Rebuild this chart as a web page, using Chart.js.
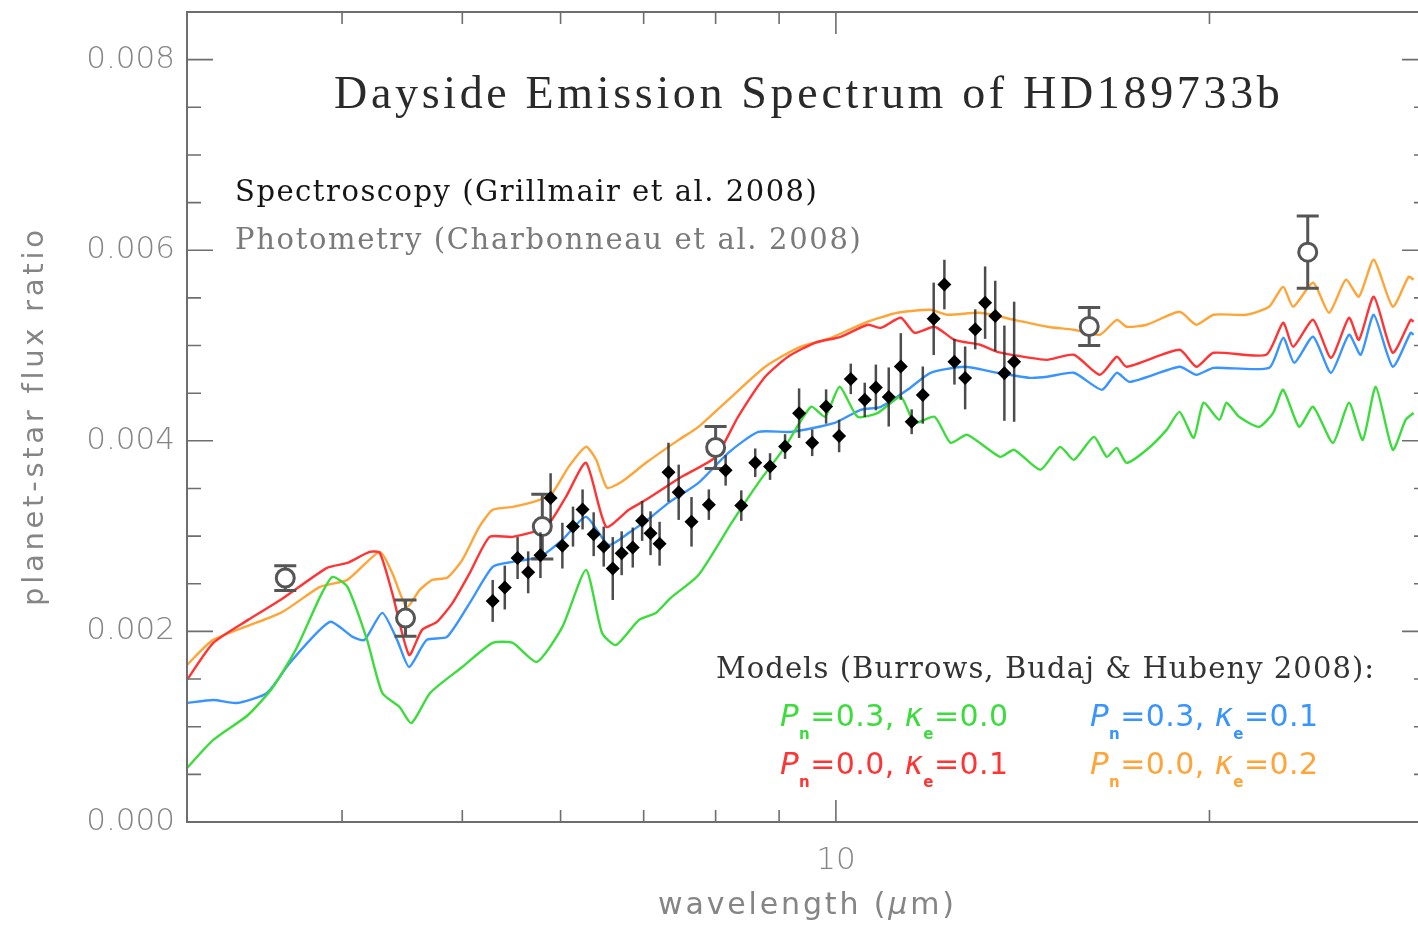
<!DOCTYPE html>
<html>
<head>
<meta charset="utf-8">
<title>Dayside Emission Spectrum of HD189733b</title>
<script src="https://cdn.jsdelivr.net/npm/chart.js@4.4.1/dist/chart.umd.min.js"></script>
<style>
  html, body { margin: 0; padding: 0; background: #fff; overflow: hidden; }
  canvas { display: block; }
</style>
</head>
<body>
<canvas id="spectrum" width="1440" height="926"></canvas>
<script>
// Spectroscopy (Grillmair et al. 2008) - wavelength in micron, flux ratio, 1-sigma error
const specWave = [5.29, 5.41, 5.54, 5.65, 5.78, 5.89, 6.02, 6.14, 6.25, 6.38,
                  6.50, 6.61, 6.72, 6.86, 6.98, 7.09, 7.21, 7.33, 7.47, 7.65,
                  7.90, 8.15, 8.39, 8.61, 8.85, 9.10, 9.34, 9.57, 9.82, 10.06,
                  10.28, 10.55, 10.77, 11.03, 11.28, 11.51, 11.75, 11.99, 12.23, 12.46,
                  12.71, 12.95, 13.19, 13.44, 13.67, 13.92];
const specFlux = [0.00232, 0.00246, 0.00277, 0.00262, 0.00280, 0.00340, 0.00290, 0.00310, 0.00328, 0.00302,
                  0.00289, 0.00266, 0.00282, 0.00288, 0.00316, 0.00303, 0.00292, 0.00367, 0.00346, 0.00315,
                  0.00333, 0.00369, 0.00332, 0.00377, 0.00373, 0.00394, 0.00429, 0.00398, 0.00436, 0.00405,
                  0.00465, 0.00443, 0.00456, 0.00446, 0.00478, 0.00420, 0.00448, 0.00528, 0.00564, 0.00483,
                  0.00466, 0.00517, 0.00545, 0.00531, 0.00471, 0.00483];
const specErr = [0.00022, 0.00023, 0.00022, 0.00022, 0.00024, 0.00026, 0.00024, 0.00021, 0.00021, 0.00023,
                 0.00021, 0.00033, 0.00023, 0.00021, 0.00021, 0.00023, 0.00023, 0.00031, 0.00029, 0.00026,
                 0.00016, 0.00016, 0.00016, 0.00015, 0.00014, 0.00013, 0.00026, 0.00014, 0.00018, 0.00017,
                 0.00016, 0.00018, 0.00024, 0.00031, 0.00035, 0.00013, 0.00030, 0.00038, 0.00026, 0.00024,
                 0.00033, 0.00021, 0.00038, 0.00037, 0.00050, 0.00063];

// Photometry (Charbonneau et al. 2008)
const photWave = [3.6, 4.5, 5.8, 8.0, 16.0, 24.0];
const photFlux = [0.00256, 0.00214, 0.00310, 0.00393, 0.00520, 0.00598];
const photErr = [0.00013, 0.00019, 0.00034, 0.00022, 0.00020, 0.00038];

// Models (Burrows, Budaj & Hubeny 2008)
const greenWave = [3.00, 3.15, 3.36, 3.52, 3.68, 3.84, 3.93, 4.04, 4.19, 4.31,
                   4.45, 4.55, 4.71, 5.00, 5.29, 5.49, 5.74, 6.02, 6.29, 6.48,
                   6.65, 6.94, 7.16, 7.36, 7.75, 8.24, 8.66, 9.10, 9.55, 9.80,
                   10.07, 10.41, 10.81, 11.28, 11.57, 12.01, 12.37, 12.76, 13.56, 13.92,
                   14.61, 15.16, 15.55, 16.14, 16.53, 16.84, 17.15, 17.80, 18.47, 18.92,
                   19.42, 19.78, 20.37, 20.64, 21.13, 21.93, 22.51, 22.93, 23.62, 24.24,
                   25.15, 25.91, 26.58, 27.23, 28.10, 28.78, 29.21];
const greenFlux = [0.000567, 0.000861, 0.001123, 0.001417, 0.001837, 0.002362, 0.002572, 0.002467, 0.001911, 0.001354,
                   0.001207, 0.001039, 0.001354, 0.001627, 0.001879, 0.001879, 0.001680, 0.002047, 0.002646, 0.001984,
                   0.001858, 0.002121, 0.002194, 0.002352, 0.002593, 0.003139, 0.003559, 0.003937, 0.004357, 0.004252,
                   0.004567, 0.004252, 0.004294, 0.004462, 0.004189, 0.004252, 0.003979, 0.004063, 0.003832, 0.003906,
                   0.003696, 0.003937, 0.003801, 0.004042, 0.003832, 0.003926, 0.003769, 0.003906, 0.004115, 0.004304,
                   0.004031, 0.004399, 0.004220, 0.004399, 0.004252, 0.004147, 0.004294, 0.004535, 0.004147, 0.004357,
                   0.003979, 0.004399, 0.004010, 0.004567, 0.003906, 0.004220, 0.004294];

const blueWave = [3.00, 3.15, 3.29, 3.48, 3.63, 3.91, 4.08, 4.17, 4.31, 4.43,
                  4.53, 4.68, 4.86, 5.07, 5.29, 5.49, 5.77, 6.02, 6.29, 6.56,
                  6.81, 7.10, 7.33, 7.75, 8.19, 8.66, 9.20, 9.98, 10.47, 10.87,
                  11.42, 11.92, 12.69, 13.49, 14.34, 14.80, 15.55, 16.38, 16.84, 17.25,
                  18.92, 19.52, 20.15, 22.34, 22.93, 23.41, 24.24, 25.06, 25.91, 26.48,
                  27.13, 28.10, 29.05, 29.21];
const blueFlux = [0.001249, 0.001281, 0.001249, 0.001354, 0.001669, 0.002100, 0.001942, 0.001911, 0.002194, 0.001911,
                  0.001627, 0.001911, 0.001942, 0.002299, 0.002677, 0.002730, 0.002782, 0.002961, 0.003202, 0.002908,
                  0.003034, 0.003202, 0.003349, 0.003559, 0.003874, 0.004094, 0.004094, 0.004189, 0.004325, 0.004357,
                  0.004535, 0.004714, 0.004777, 0.004714, 0.004661, 0.004672, 0.004714, 0.004535, 0.004714, 0.004619,
                  0.004777, 0.004693, 0.004766, 0.004766, 0.005081, 0.004819, 0.005092, 0.004714, 0.005113, 0.004903,
                  0.005323, 0.004777, 0.005134, 0.005113];

const redWave = [3.00, 3.15, 3.36, 3.57, 3.89, 4.04, 4.21, 4.29, 4.39, 4.53,
                 4.64, 4.77, 4.91, 5.07, 5.26, 5.49, 5.84, 6.06, 6.29, 6.53,
                 6.81, 7.03, 7.51, 8.00, 8.34, 8.77, 9.15, 9.62, 10.09, 10.61,
                 10.87, 11.28, 11.57, 12.01, 12.46, 13.07, 13.49, 14.34, 14.80, 15.55,
                 16.32, 16.84, 17.15, 18.92, 19.52, 20.15, 22.22, 22.93, 23.36, 24.24,
                 25.06, 25.91, 26.39, 27.13, 28.10, 29.05, 29.21];
const redFlux = [0.001491, 0.001879, 0.002121, 0.002331, 0.002667, 0.002719, 0.002835, 0.002824, 0.002404, 0.001753,
                 0.002016, 0.002100, 0.002299, 0.002614, 0.002992, 0.002992, 0.003097, 0.003412, 0.003769, 0.003097,
                 0.003276, 0.003381, 0.003622, 0.003832, 0.004252, 0.004672, 0.004882, 0.005029, 0.005092, 0.005218,
                 0.005186, 0.005291, 0.005134, 0.005197, 0.005060, 0.005008, 0.004934, 0.004871, 0.004850, 0.004903,
                 0.004693, 0.004882, 0.004777, 0.004955, 0.004777, 0.004924, 0.004903, 0.005239, 0.004987, 0.005270,
                 0.004871, 0.005291, 0.005060, 0.005512, 0.004924, 0.005270, 0.005249];

const orangeWave = [3.00, 3.15, 3.57, 3.84, 4.04, 4.29, 4.39, 4.51, 4.62, 4.73,
                    4.86, 5.00, 5.16, 5.29, 5.49, 5.77, 5.91, 6.09, 6.29, 6.41,
                    6.54, 6.72, 7.03, 7.47, 7.75, 8.24, 8.77, 9.32, 9.91, 10.55,
                    11.21, 11.92, 12.30, 13.07, 13.92, 14.80, 15.55, 16.32, 16.84, 17.15,
                    17.80, 18.92, 19.52, 20.15, 21.41, 22.34, 22.93, 23.36, 24.24, 24.97,
                    25.76, 26.39, 27.13, 28.10, 28.94, 29.21];
const orangeFlux = [0.001648, 0.001911, 0.002194, 0.002467, 0.002541, 0.002835, 0.002614, 0.002257, 0.002436, 0.002541,
                    0.002562, 0.002751, 0.003097, 0.003276, 0.003307, 0.003381, 0.003454, 0.003727, 0.003937, 0.003801,
                    0.003507, 0.003570, 0.003769, 0.004010, 0.004147, 0.004462, 0.004777, 0.004976, 0.005081, 0.005239,
                    0.005344, 0.005375, 0.005323, 0.005344, 0.005270, 0.005197, 0.005165, 0.005113, 0.005270, 0.005197,
                    0.005218, 0.005354, 0.005218, 0.005323, 0.005323, 0.005407, 0.005617, 0.005407, 0.005659, 0.005344,
                    0.005690, 0.005512, 0.005900, 0.005407, 0.005722, 0.005690];

const xTickValues = [3, 4, 5, 6, 7, 8, 9, 10, 20, 30];
const xTickLabels = { 10: '10' };
const yStep = 0.0005;
const yLabelStep = 0.002;

const GREEN = '#3ddc3d';
const BLUE = '#3894ff';
const RED = '#ff3434';
const ORANGE = '#ffa437';
const AXIS = '#6e6e6e';
const LABEL = '#858585';

function pairs(xs, ys) {
    return xs.map((x, i) => ({ x: x, y: ys[i] }));
}

function modelSet(label, wave, flux, color) {
    return {
        type: 'line',
        label: label,
        data: pairs(wave, flux),
        borderColor: color,
        borderWidth: 2.4,
        pointRadius: 0,
        tension: 0.2,
        fill: false
    };
}

// text made of parts in different fonts, letter spaced so it spans a given width
function richText(ctx, parts, x, y, width) {
    let natural = 0, chars = 0;
    parts.forEach(p => {
        ctx.font = p.font;
        ctx.letterSpacing = '0px';
        p.w = ctx.measureText(p.t).width;
        p.n = [...p.t].length;
        natural += p.w;
        chars += p.n;
    });
    const ls = (width - natural) / Math.max(1, chars - 1);
    let cx = x;
    parts.forEach(p => {
        ctx.font = p.font;
        ctx.letterSpacing = ls.toFixed(2) + 'px';
        ctx.fillText(p.t, cx, y + (p.dy || 0));
        cx += p.w + p.n * ls;
    });
    ctx.letterSpacing = '0px';
}

function fitText(ctx, text, x, y, width) {
    richText(ctx, [{ t: text, font: ctx.font }], x, y, width);
}

function legendEntry(ctx, x, y, pn, ke, color) {
    ctx.fillStyle = color;
    const main = '30px "DejaVu Sans"';
    const ital = 'italic 31px "DejaVu Sans"';
    const sub = 'bold 15px "DejaVu Sans"';
    richText(ctx, [
        { t: 'P', font: ital },
        { t: 'n', font: sub, dy: 17 },
        { t: '=' + pn + ', ', font: main },
        { t: 'κ', font: ital },
        { t: 'e', font: sub, dy: 17 },
        { t: '=' + ke, font: main }
    ], x, y, 228);
}

const errorBars = {
    id: 'errorBars',
    beforeDatasetDraw(chart, args) {
        const ds = chart.data.datasets[args.index];
        if (!ds.errors) return;
        const ctx = chart.ctx;
        const y = chart.scales.y;
        ctx.save();
        ctx.strokeStyle = ds.errorColor;
        ctx.lineWidth = ds.errorWidth;
        args.meta.data.forEach((pt, i) => {
            const v = ds.data[i].y;
            const top = y.getPixelForValue(v + ds.errors[i]);
            const bot = y.getPixelForValue(v - ds.errors[i]);
            ctx.beginPath();
            ctx.moveTo(pt.x, top);
            ctx.lineTo(pt.x, bot);
            if (ds.errorCap) {
                ctx.moveTo(pt.x - ds.errorCap, top);
                ctx.lineTo(pt.x + ds.errorCap, top);
                ctx.moveTo(pt.x - ds.errorCap, bot);
                ctx.lineTo(pt.x + ds.errorCap, bot);
            }
            ctx.stroke();
        });
        ctx.restore();
    }
};

// box with inward ticks on all four sides, IDL style
const frame = {
    id: 'frame',
    afterDraw(chart) {
        const ctx = chart.ctx;
        const a = chart.chartArea;
        const x = chart.scales.x;
        const y = chart.scales.y;
        ctx.save();
        ctx.strokeStyle = AXIS;
        ctx.lineWidth = 2;
        ctx.strokeRect(a.left, a.top, a.right - a.left, a.bottom - a.top);
        ctx.lineWidth = 1.6;
        ctx.beginPath();
        x.ticks.forEach(t => {
            const px = x.getPixelForValue(t.value);
            const len = Number.isInteger(Math.log10(t.value)) ? 22 : 12;
            ctx.moveTo(px, a.bottom); ctx.lineTo(px, a.bottom - len);
            ctx.moveTo(px, a.top); ctx.lineTo(px, a.top + len);
        });
        y.ticks.forEach(t => {
            const py = y.getPixelForValue(t.value);
            const r = t.value / yLabelStep;
            const len = Math.abs(r - Math.round(r)) < 1e-6 ? 26 : 14;
            ctx.moveTo(a.left, py); ctx.lineTo(a.left + len, py);
            ctx.moveTo(a.right, py); ctx.lineTo(a.right - len, py);
        });
        ctx.stroke();
        ctx.restore();
    }
};

const annotations = {
    id: 'annotations',
    afterDraw(chart) {
        const ctx = chart.ctx;
        ctx.save();
        ctx.textAlign = 'left';
        ctx.textBaseline = 'middle';

        ctx.fillStyle = '#2a2a2a';
        ctx.font = '46px "Liberation Serif"';
        fitText(ctx, 'Dayside Emission Spectrum of HD189733b', 334, 96, 946);

        ctx.font = '29px "DejaVu Serif"';
        ctx.fillStyle = '#151515';
        fitText(ctx, 'Spectroscopy (Grillmair et al. 2008)', 235, 193, 582);
        ctx.fillStyle = '#7a7a7a';
        fitText(ctx, 'Photometry (Charbonneau et al. 2008)', 235, 241, 626);
        ctx.fillStyle = '#333';
        fitText(ctx, 'Models (Burrows, Budaj & Hubeny 2008):', 716, 670, 658);

        legendEntry(ctx, 780, 718, '0.3', '0.0', GREEN);
        legendEntry(ctx, 1090, 718, '0.3', '0.1', BLUE);
        legendEntry(ctx, 780, 766, '0.0', '0.1', RED);
        legendEntry(ctx, 1090, 766, '0.0', '0.2', ORANGE);

        // axis titles
        ctx.fillStyle = LABEL;
        richText(ctx, [
            { t: 'wavelength (', font: '30px "DejaVu Sans"' },
            { t: 'μ', font: 'italic 30px "DejaVu Sans"' },
            { t: 'm)', font: '30px "DejaVu Sans"' }
        ], 658, 906, 296);
        ctx.translate(35, 418);
        ctx.rotate(-Math.PI / 2);
        ctx.font = '29px "DejaVu Sans"';
        fitText(ctx, 'planet-star flux ratio', -188, 0, 376);
        ctx.restore();
    }
};

const tickFont = { family: 'DejaVu Sans', size: 31, weight: '300' };

new Chart(document.getElementById('spectrum'), {
    type: 'scatter',
    data: {
        datasets: [
            {
                label: 'Spectroscopy (Grillmair et al. 2008)',
                data: pairs(specWave, specFlux),
                errors: specErr,
                errorColor: 'rgba(45,45,45,0.85)',
                errorWidth: 2.5,
                pointStyle: 'rectRot',
                pointRadius: 7,
                backgroundColor: '#000',
                borderColor: '#000',
                borderWidth: 0
            },
            {
                label: 'Photometry (Charbonneau et al. 2008)',
                data: pairs(photWave, photFlux),
                errors: photErr,
                errorColor: '#555',
                errorWidth: 3,
                errorCap: 11,
                pointStyle: 'circle',
                pointRadius: 9,
                backgroundColor: '#fff',
                borderColor: '#555',
                borderWidth: 3
            },
            modelSet('Pn=0.3, κe=0.0', greenWave, greenFlux, GREEN),
            modelSet('Pn=0.3, κe=0.1', blueWave, blueFlux, BLUE),
            modelSet('Pn=0.0, κe=0.1', redWave, redFlux, RED),
            modelSet('Pn=0.0, κe=0.2', orangeWave, orangeFlux, ORANGE)
        ]
    },
    options: {
        responsive: false,
        animation: false,
        layout: { padding: { top: 12, right: 8, left: 0, bottom: 0 } },
        plugins: {
            legend: { display: false },
            tooltip: { enabled: false },
            title: { display: false }
        },
        scales: {
            x: {
                type: 'logarithmic',
                min: 3,
                max: 30,
                border: { display: false },
                grid: { display: false, drawTicks: false },
                afterBuildTicks(scale) {
                    scale.ticks = xTickValues.map(v => ({ value: v }));
                },
                afterFit(scale) {
                    scale.height = 104;
                    scale.paddingLeft = 0;
                    scale.paddingRight = 0;
                },
                ticks: {
                    autoSkip: false,
                    maxRotation: 0,
                    padding: 20,
                    color: LABEL,
                    font: tickFont,
                    callback: v => xTickLabels[v] || ''
                }
            },
            y: {
                type: 'linear',
                min: 0,
                max: 0.0085,
                border: { display: false },
                grid: { display: false, drawTicks: false },
                afterFit(scale) {
                    scale.width = 187;
                    scale.paddingTop = 0;
                    scale.paddingBottom = 0;
                },
                ticks: {
                    stepSize: yStep,
                    autoSkip: false,
                    padding: 12,
                    color: LABEL,
                    font: tickFont,
                    callback: v => {
                        const r = v / yLabelStep;
                        return Math.abs(r - Math.round(r)) < 1e-6 ? v.toFixed(3) : '';
                    }
                }
            }
        }
    },
    plugins: [errorBars, frame, annotations]
});
</script>
</body>
</html>
